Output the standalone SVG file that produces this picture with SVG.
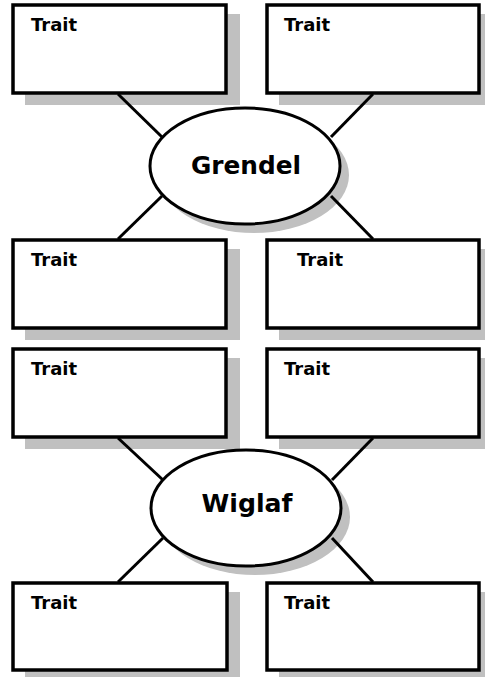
<svg xmlns="http://www.w3.org/2000/svg" width="485" height="677" viewBox="0 0 485 677">
<style>
.sh{fill:#c0c0c0;stroke:none}
.box{fill:#fff;stroke:#000;stroke-width:3.5}
.ell{fill:#fff;stroke:#000;stroke-width:3}
.t{font-family:"DejaVu Sans",Verdana,sans-serif;font-weight:bold;font-size:18px;fill:#000}
.n{font-family:"DejaVu Sans",Verdana,sans-serif;font-weight:bold;font-size:24px;fill:#000}
#conn line{stroke:#000;stroke-width:3}
</style>
<rect width="485" height="677" fill="#fff"/>
<g id="trait1"><rect class="sh" x="25" y="14" width="215" height="91"/><rect class="box" x="13" y="5" width="213" height="88"/><text class="t" x="31" y="31">Trait</text></g>
<g id="trait2"><rect class="sh" x="279" y="14" width="206" height="91"/><rect class="box" x="267" y="5" width="212" height="88"/><text class="t" x="284" y="31">Trait</text></g>
<g id="grendel"><ellipse class="sh" cx="254" cy="175" rx="95" ry="58"/><ellipse class="ell" cx="245" cy="166" rx="95" ry="58"/><text class="n" x="246" y="174" text-anchor="middle" textLength="110" lengthAdjust="spacingAndGlyphs">Grendel</text></g>
<g id="trait3"><rect class="sh" x="25" y="249" width="215" height="91"/><rect class="box" x="13" y="240" width="213" height="88"/><text class="t" x="31" y="266">Trait</text></g>
<g id="trait4"><rect class="sh" x="279" y="249" width="206" height="91"/><rect class="box" x="267" y="240" width="212" height="88"/><text class="t" x="297" y="266">Trait</text></g>
<g id="trait5"><rect class="sh" x="25" y="358" width="215" height="91"/><rect class="box" x="13" y="349" width="213" height="88"/><text class="t" x="31" y="375">Trait</text></g>
<g id="trait6"><rect class="sh" x="279" y="358" width="206" height="91"/><rect class="box" x="267" y="349" width="212" height="88"/><text class="t" x="284" y="375">Trait</text></g>
<g id="wiglaf"><ellipse class="sh" cx="255" cy="517" rx="95" ry="58"/><ellipse class="ell" cx="246" cy="508" rx="95" ry="58"/><text class="n" x="247" y="512" text-anchor="middle" textLength="91" lengthAdjust="spacingAndGlyphs">Wiglaf</text></g>
<g id="trait7"><rect class="sh" x="25" y="592" width="215" height="85"/><rect class="box" x="13" y="583" width="214" height="87"/><text class="t" x="31" y="609">Trait</text></g>
<g id="trait8"><rect class="sh" x="279" y="592" width="206" height="85"/><rect class="box" x="267" y="583" width="212" height="87"/><text class="t" x="284" y="609">Trait</text></g>
<g id="conn">
<line x1="118" y1="94" x2="162" y2="137"/>
<line x1="373" y1="94" x2="331" y2="137"/>
<line x1="162" y1="196" x2="118" y2="239"/>
<line x1="331" y1="196" x2="373" y2="239"/>
<line x1="118" y1="438" x2="163" y2="480"/>
<line x1="373" y1="438" x2="332" y2="480"/>
<line x1="163" y1="538" x2="118" y2="582"/>
<line x1="332" y1="538" x2="373" y2="582"/>
</g>
</svg>
